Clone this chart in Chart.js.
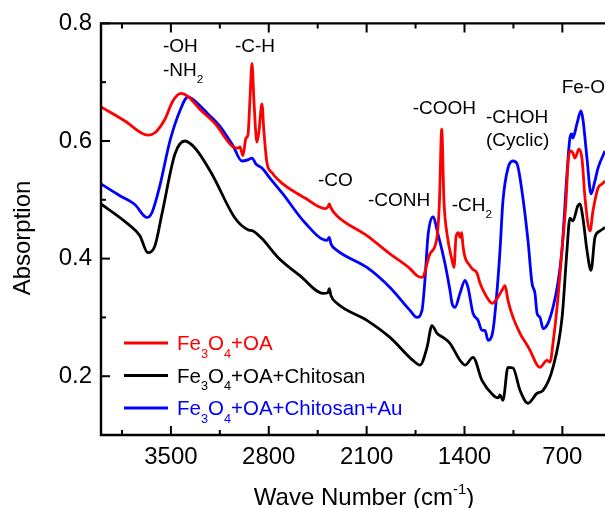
<!DOCTYPE html>
<html lang="en">
<head>
<meta charset="UTF-8">
<title>FTIR Absorption Spectra</title>
<script src="https://cdn.jsdelivr.net/npm/chart.js"></script>
<style>
    * { margin: 0; padding: 0; box-sizing: border-box; }
    body { background: #ffffff; width: 605px; height: 508px; overflow: hidden; }
    .chart-box { position: relative; width: 605px; height: 508px; }
</style>
</head>
<body>
<div class="chart-box"><canvas id="ftirChart" width="605" height="508"></canvas></div>
<script>
// Fe3O4+OA
const redWave = [4000, 3829, 3665, 3614, 3543, 3486, 3428, 3378, 3293, 3185, 3056, 3021,
    3006, 2985, 2963, 2949, 2935, 2920, 2906, 2885, 2870, 2849, 2835, 2813,
    2777, 2699, 2541, 2398, 2377, 2367, 2355, 2313, 2098, 1933, 1790, 1740,
    1704, 1647, 1597, 1579, 1563, 1547, 1525, 1489, 1475, 1461, 1444, 1432,
    1420, 1411, 1396, 1361, 1346, 1310, 1289, 1239, 1203, 1167, 1132, 1110,
    1089, 1053, 1003, 931, 881, 860, 810, 788, 767, 738, 703, 674,
    660, 646, 625, 610, 581, 560, 538, 502, 481, 445, 416, 395];
const redAbs = [0.658, 0.634, 0.610, 0.614, 0.637, 0.668, 0.681, 0.676, 0.654, 0.630, 0.590, 0.588,
    0.590, 0.575, 0.605, 0.610, 0.668, 0.732, 0.668, 0.598, 0.617, 0.663, 0.617, 0.563,
    0.546, 0.527, 0.503, 0.485, 0.488, 0.493, 0.486, 0.473, 0.439, 0.408, 0.383, 0.371,
    0.368, 0.408, 0.436, 0.498, 0.620, 0.498, 0.442, 0.397, 0.385, 0.436, 0.444, 0.436,
    0.444, 0.422, 0.402, 0.388, 0.383, 0.375, 0.358, 0.334, 0.324, 0.332, 0.346, 0.354,
    0.329, 0.300, 0.273, 0.244, 0.219, 0.215, 0.227, 0.224, 0.256, 0.317, 0.414, 0.498,
    0.561, 0.583, 0.580, 0.571, 0.586, 0.571, 0.503, 0.447, 0.481, 0.520, 0.527, 0.532];

// Fe3O4+OA+Chitosan
const blackWave = [4000, 3808, 3722, 3665, 3614, 3564, 3471, 3400, 3328, 3207, 3042, 2949,
    2913, 2849, 2734, 2577, 2412, 2377, 2367, 2355, 2312, 2098, 1933, 1769,
    1718, 1668, 1633, 1597, 1554, 1504, 1432, 1396, 1339, 1275, 1196, 1160,
    1146, 1125, 1089, 1053, 1003, 946, 881, 838, 767, 702, 667, 646,
    625, 589, 575, 553, 524, 495, 467, 431, 395];
const blackAbs = [0.493, 0.459, 0.439, 0.410, 0.422, 0.476, 0.578, 0.600, 0.588, 0.544, 0.469, 0.449,
    0.447, 0.434, 0.402, 0.371, 0.341, 0.342, 0.349, 0.337, 0.324, 0.295, 0.266, 0.227,
    0.219, 0.249, 0.286, 0.273, 0.266, 0.256, 0.227, 0.219, 0.232, 0.193, 0.168, 0.163,
    0.168, 0.159, 0.215, 0.214, 0.176, 0.154, 0.171, 0.176, 0.215, 0.300, 0.414, 0.469,
    0.464, 0.490, 0.493, 0.469, 0.414, 0.380, 0.436, 0.447, 0.453];

// Fe3O4+OA+Chitosan+Au
const blueWave = [4000, 3865, 3758, 3672, 3636, 3579, 3507, 3436, 3378, 3328, 3235, 3149,
    3056, 2992, 2949, 2920, 2892, 2849, 2792, 2699, 2541, 2384, 2367, 2355,
    2312, 2098, 1933, 1790, 1740, 1704, 1683, 1661, 1626, 1590, 1540, 1504,
    1489, 1468, 1432, 1396, 1375, 1339, 1303, 1275, 1253, 1232, 1196, 1167,
    1146, 1125, 1089, 1053, 1024, 989, 946, 917, 896, 881, 860, 838,
    803, 767, 732, 703, 667, 646, 632, 625, 596, 567, 553, 524,
    495, 467, 445, 395];
const blueAbs = [0.527, 0.507, 0.492, 0.470, 0.478, 0.524, 0.600, 0.651, 0.675, 0.668, 0.646, 0.625,
    0.592, 0.566, 0.568, 0.571, 0.561, 0.554, 0.537, 0.510, 0.461, 0.431, 0.436, 0.425,
    0.414, 0.385, 0.351, 0.312, 0.300, 0.312, 0.363, 0.439, 0.471, 0.442, 0.392, 0.346,
    0.324, 0.317, 0.341, 0.363, 0.351, 0.307, 0.295, 0.278, 0.278, 0.261, 0.278, 0.346,
    0.414, 0.498, 0.554, 0.566, 0.561, 0.515, 0.431, 0.358, 0.341, 0.307, 0.300, 0.281,
    0.290, 0.317, 0.358, 0.414, 0.544, 0.605, 0.612, 0.605, 0.629, 0.651, 0.637, 0.571,
    0.510, 0.532, 0.554, 0.583];

const xMajorTicks = [3500, 2800, 2100, 1400, 700];
const xMinorTicks = [3850, 3150, 2450, 1750, 1050];
const yMajorTicks = [0.2, 0.4, 0.6, 0.8];
const yMinorTicks = [0.3, 0.5, 0.7];

// band assignments: left edge (wave number) and vertical centre (absorbance)
const bandLabels = [
    { wave: 3557, abs: 0.763, parts: [{ t: '-OH' }] },
    { wave: 3557, abs: 0.722, parts: [{ t: '-NH' }, { t: '2', s: 'sub' }] },
    { wave: 3042, abs: 0.763, parts: [{ t: '-C-H' }] },
    { wave: 2448, abs: 0.535, parts: [{ t: '-CO' }] },
    { wave: 2090, abs: 0.501, parts: [{ t: '-CONH' }] },
    { wave: 1771, abs: 0.658, parts: [{ t: '-COOH' }] },
    { wave: 1492, abs: 0.492, parts: [{ t: '-CH' }, { t: '2', s: 'sub' }] },
    { wave: 1246, abs: 0.642, parts: [{ t: '-CHOH' }] },
    { wave: 1246, abs: 0.603, parts: [{ t: '(Cyclic)' }] },
    { wave: 705, abs: 0.693, parts: [{ t: 'Fe-O' }] }
];

const legendItems = [
    { color: '#ff0000', parts: [{ t: 'Fe' }, { t: '3', s: 'sub' }, { t: 'O' }, { t: '4', s: 'sub' }, { t: '+OA' }] },
    { color: '#000000', parts: [{ t: 'Fe' }, { t: '3', s: 'sub' }, { t: 'O' }, { t: '4', s: 'sub' }, { t: '+OA+Chitosan' }] },
    { color: '#0000ff', parts: [{ t: 'Fe' }, { t: '3', s: 'sub' }, { t: 'O' }, { t: '4', s: 'sub' }, { t: '+OA+Chitosan+Au' }] }
];

const FONT = "'Liberation Sans', Arial, sans-serif";

const toPoints = (xs, ys) => xs.map((x, i) => ({ x: x, y: ys[i] }));

function drawRich(ctx, parts, x, y, size, color) {
    const small = size * 0.62;
    ctx.fillStyle = color;
    ctx.textAlign = 'left';
    ctx.textBaseline = 'alphabetic';
    let cx = x;
    parts.forEach(p => {
        const fs = p.s ? small : size;
        ctx.font = fs + 'px ' + FONT;
        let dy = 0;
        if (p.s === 'sub') dy = size * 0.36;
        if (p.s === 'sup') dy = -size * 0.45;
        ctx.fillText(p.t, cx, y + dy);
        cx += ctx.measureText(p.t).width;
    });
    return cx - x;
}

const framePlugin = {
    id: 'frame',
    afterDatasetsDraw(chart) {
        const ctx = chart.ctx;
        const a = chart.chartArea;
        const xs = chart.scales.x;
        const ys = chart.scales.y;
        ctx.save();
        ctx.strokeStyle = '#000';
        ctx.lineWidth = 2.4;
        ctx.lineCap = 'square';
        ctx.beginPath();
        ctx.moveTo(a.right + 2, a.top);
        ctx.lineTo(a.left, a.top);
        ctx.lineTo(a.left, a.bottom);
        ctx.lineTo(a.right + 2, a.bottom);
        ctx.stroke();

        ctx.lineWidth = 2;
        ctx.lineCap = 'butt';
        const tick = (v, len) => {
            const px = xs.getPixelForValue(v);
            ctx.beginPath();
            ctx.moveTo(px, a.bottom);
            ctx.lineTo(px, a.bottom - len);
            ctx.moveTo(px, a.top);
            ctx.lineTo(px, a.top + len);
            ctx.stroke();
        };
        xMajorTicks.forEach(v => tick(v, 9));
        xMinorTicks.forEach(v => tick(v, 5));
        const ytick = (v, len) => {
            const py = ys.getPixelForValue(v);
            ctx.beginPath();
            ctx.moveTo(a.left, py);
            ctx.lineTo(a.left + len, py);
            ctx.stroke();
        };
        yMajorTicks.forEach(v => ytick(v, 9));
        yMinorTicks.forEach(v => ytick(v, 5));

        // band labels
        bandLabels.forEach(b => {
            const px = xs.getPixelForValue(b.wave);
            const py = ys.getPixelForValue(b.abs) + 19 * 0.36;
            drawRich(ctx, b.parts, px, py, 19, '#000');
        });

        // legend
        legendItems.forEach((item, i) => {
            const ly = a.bottom - 92 + i * 32.5;
            ctx.strokeStyle = item.color;
            ctx.lineWidth = 3;
            ctx.beginPath();
            ctx.moveTo(a.left + 23, ly);
            ctx.lineTo(a.left + 67, ly);
            ctx.stroke();
            drawRich(ctx, item.parts, a.left + 76, ly + 7.4, 20.5, item.color);
        });

        // axis titles
        ctx.font = '24px ' + FONT;
        ctx.save();
        ctx.translate(23, 238);
        ctx.rotate(-Math.PI / 2);
        ctx.fillStyle = '#000';
        ctx.textAlign = 'center';
        ctx.textBaseline = 'middle';
        ctx.fillText('Absorption', 0, 0);
        ctx.restore();

        const title = [{ t: 'Wave Number (cm' }, { t: '-1', s: 'sup' }, { t: ')' }];
        ctx.font = '24px ' + FONT;
        let w = ctx.measureText('Wave Number (cm').width + ctx.measureText(')').width;
        ctx.font = (24 * 0.62) + 'px ' + FONT;
        w += ctx.measureText('-1').width;
        drawRich(ctx, title, 364 - w / 2, 505, 24, '#000');
        ctx.restore();
    }
};

const lineStyle = { borderWidth: 2.8, pointRadius: 0, fill: false, cubicInterpolationMode: 'monotone' };

new Chart(document.getElementById('ftirChart'), {
    type: 'line',
    data: {
        datasets: [
            Object.assign({ label: 'Fe3O4+OA+Chitosan', data: toPoints(blackWave, blackAbs), borderColor: '#000000' }, lineStyle),
            Object.assign({ label: 'Fe3O4+OA', data: toPoints(redWave, redAbs), borderColor: '#ff0000' }, lineStyle),
            Object.assign({ label: 'Fe3O4+OA+Chitosan+Au', data: toPoints(blueWave, blueAbs), borderColor: '#0000ff' }, lineStyle)
        ]
    },
    options: {
        responsive: false,
        animation: false,
        devicePixelRatio: 1,
        layout: { padding: { top: 22, right: 0, bottom: 0, left: 0 } },
        plugins: { legend: { display: false }, tooltip: { enabled: false } },
        scales: {
            x: {
                type: 'linear',
                reverse: true,
                min: 395,
                max: 4000,
                grid: { display: false, drawTicks: false },
                border: { display: false },
                afterBuildTicks: scale => { scale.ticks = xMajorTicks.map(v => ({ value: v })); },
                afterFit: scale => { scale.height = 73; },
                ticks: {
                    autoSkip: false,
                    maxRotation: 0,
                    padding: 8,
                    color: '#000',
                    font: { family: FONT, size: 24 },
                    callback: v => String(v)
                }
            },
            y: {
                min: 0.1,
                max: 0.8,
                grid: { display: false, drawTicks: false },
                border: { display: false },
                afterBuildTicks: scale => { scale.ticks = yMajorTicks.map(v => ({ value: v })); },
                afterFit: scale => { scale.width = 101; },
                ticks: {
                    padding: 9,
                    color: '#000',
                    font: { family: FONT, size: 24 },
                    callback: v => v.toFixed(1)
                }
            }
        }
    },
    plugins: [framePlugin]
});
</script>
</body>
</html>
